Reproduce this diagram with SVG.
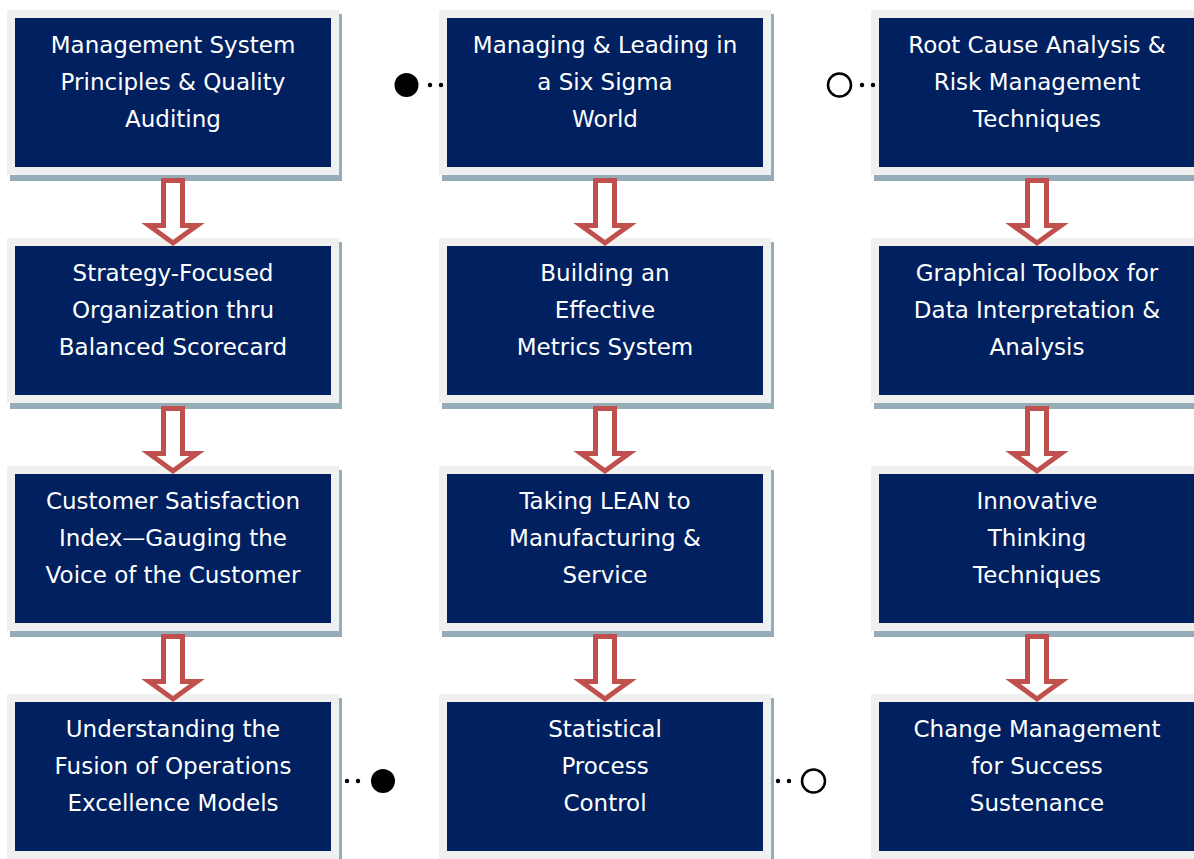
<svg xmlns="http://www.w3.org/2000/svg" xmlns:xlink="http://www.w3.org/1999/xlink" width="1194" height="859" viewBox="0 0 1194 859">
  <style>
    .shadow { fill: #94adb6; }
    .frame { fill: #f0f0f0; }
    .card { fill: #002060; }
    .label { font-family: "DejaVu Sans", Verdana, sans-serif; font-size: 23px; fill: #ffffff; text-anchor: middle; }
    .flow { fill: #ffffff; stroke: #c0504d; stroke-width: 5; stroke-linejoin: miter; }
    .dots { fill: none; stroke: #000000; stroke-width: 4.5; stroke-linecap: round; stroke-dasharray: 0 11; }
    .end-solid { fill: #000000; }
    .end-open { fill: #ffffff; stroke: #000000; stroke-width: 2.5; }
  </style>
  <defs>
    <!-- block arrow pointing down, origin at column centre / shaft top -->
    <path id="down-arrow" class="flow" d="M-9.5,0 H9.5 V45 H24 L0,62.5 L-24,45 H-9.5 Z"/>
    <!-- one card: shadow, light frame, navy panel -->
    <g id="card">
      <rect class="shadow" x="3" y="4" width="332" height="167"/>
      <rect class="frame" x="0" y="0" width="332" height="165"/>
      <rect class="card" x="8" y="8" width="316" height="149"/>
    </g>
  </defs>
  <rect width="1194" height="859" fill="#ffffff"/>

  <!-- column 1 -->
  <g id="n-msp">
    <use xlink:href="#card" x="7" y="10"/>
    <text class="label"><tspan x="173" y="53">Management System</tspan><tspan x="173" y="90">Principles &amp; Quality</tspan><tspan x="173" y="127">Auditing</tspan></text>
  </g>
  <g id="n-sfo">
    <use xlink:href="#card" x="7" y="238"/>
    <text class="label"><tspan x="173" y="281">Strategy-Focused</tspan><tspan x="173" y="318">Organization thru</tspan><tspan x="173" y="355">Balanced Scorecard</tspan></text>
  </g>
  <g id="n-csi">
    <use xlink:href="#card" x="7" y="466"/>
    <text class="label"><tspan x="173" y="509">Customer Satisfaction</tspan><tspan x="173" y="546">Index—Gauging the</tspan><tspan x="173" y="583">Voice of the Customer</tspan></text>
  </g>
  <g id="n-fusion">
    <use xlink:href="#card" x="7" y="694"/>
    <text class="label"><tspan x="173" y="737">Understanding the</tspan><tspan x="173" y="774">Fusion of Operations</tspan><tspan x="173" y="811">Excellence Models</tspan></text>
  </g>

  <!-- column 2 -->
  <g id="n-sixsigma">
    <use xlink:href="#card" x="439" y="10"/>
    <text class="label"><tspan x="605" y="53">Managing &amp; Leading in</tspan><tspan x="605" y="90">a Six Sigma</tspan><tspan x="605" y="127">World</tspan></text>
  </g>
  <g id="n-metrics">
    <use xlink:href="#card" x="439" y="238"/>
    <text class="label"><tspan x="605" y="281">Building an</tspan><tspan x="605" y="318">Effective</tspan><tspan x="605" y="355">Metrics System</tspan></text>
  </g>
  <g id="n-lean">
    <use xlink:href="#card" x="439" y="466"/>
    <text class="label"><tspan x="605" y="509">Taking LEAN to</tspan><tspan x="605" y="546">Manufacturing &amp;</tspan><tspan x="605" y="583">Service</tspan></text>
  </g>
  <g id="n-spc">
    <use xlink:href="#card" x="439" y="694"/>
    <text class="label"><tspan x="605" y="737">Statistical</tspan><tspan x="605" y="774">Process</tspan><tspan x="605" y="811">Control</tspan></text>
  </g>

  <!-- column 3 -->
  <g id="n-rca">
    <use xlink:href="#card" x="871" y="10"/>
    <text class="label"><tspan x="1037" y="53">Root Cause Analysis &amp;</tspan><tspan x="1037" y="90">Risk Management</tspan><tspan x="1037" y="127">Techniques</tspan></text>
  </g>
  <g id="n-toolbox">
    <use xlink:href="#card" x="871" y="238"/>
    <text class="label"><tspan x="1037" y="281">Graphical Toolbox for</tspan><tspan x="1037" y="318">Data Interpretation &amp;</tspan><tspan x="1037" y="355">Analysis</tspan></text>
  </g>
  <g id="n-innovative">
    <use xlink:href="#card" x="871" y="466"/>
    <text class="label"><tspan x="1037" y="509">Innovative</tspan><tspan x="1037" y="546">Thinking</tspan><tspan x="1037" y="583">Techniques</tspan></text>
  </g>
  <g id="n-change">
    <use xlink:href="#card" x="871" y="694"/>
    <text class="label"><tspan x="1037" y="737">Change Management</tspan><tspan x="1037" y="774">for Success</tspan><tspan x="1037" y="811">Sustenance</tspan></text>
  </g>

  <!-- connectors -->
  <g id="connectors">
    <use xlink:href="#down-arrow" x="173" y="180.5"/>
    <use xlink:href="#down-arrow" x="173" y="408.5"/>
    <use xlink:href="#down-arrow" x="173" y="636.5"/>
    <use xlink:href="#down-arrow" x="605" y="180.5"/>
    <use xlink:href="#down-arrow" x="605" y="408.5"/>
    <use xlink:href="#down-arrow" x="605" y="636.5"/>
    <use xlink:href="#down-arrow" x="1037" y="180.5"/>
    <use xlink:href="#down-arrow" x="1037" y="408.5"/>
    <use xlink:href="#down-arrow" x="1037" y="636.5"/>

    <!-- round end caps first, dotted leaders on top -->
    <circle class="end-solid" cx="406.5" cy="85" r="12"/>
    <circle class="end-open" cx="839.5" cy="85" r="11.5"/>
    <circle class="end-solid" cx="383" cy="781" r="12"/>
    <circle class="end-open" cx="813.5" cy="781" r="11.5"/>
    <path class="dots" d="M441,85 H419"/>
    <path class="dots" d="M873,85 H851"/>
    <path class="dots" d="M347,781 H369"/>
    <path class="dots" d="M778,781 H800"/>
  </g>
</svg>
